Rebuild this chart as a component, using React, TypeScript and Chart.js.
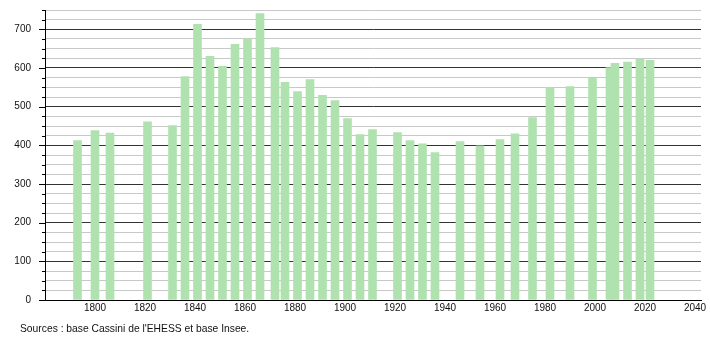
import React, { useEffect, useRef } from "react";
import { Chart, registerables } from "chart.js";

Chart.register(...registerables);

const years = [
  1793, 1800, 1806, 1821, 1831, 1836, 1841, 1846, 1851, 1856, 1861, 1866, 1872,
  1876, 1881, 1886, 1891, 1896, 1901, 1906, 1911, 1921, 1926, 1931, 1936, 1946,
  1954, 1962, 1968, 1975, 1982, 1990, 1999, 2006, 2008, 2013, 2018, 2022,
];
const population = [
  412, 438, 432, 461, 451, 578, 713, 630, 604, 661, 676, 741, 653,
  563, 539, 570, 529, 516, 469, 428, 441, 433, 412, 404, 381, 410,
  399, 415, 430, 472, 550, 552, 573, 601, 612, 615, 624, 620,
];
const xTickValues = [1800, 1820, 1840, 1860, 1880, 1900, 1920, 1940, 1960, 1980, 2000, 2020, 2040];
const xMin = 1780;
const xMax = 2042.4;
const yMin = 0;
const yMax = 750;
const yMinorStep = 25;
const yMajorStep = 100;
const sourceText = "Sources : base Cassini de l'EHESS et base Insee.";

const FONT = '"Liberation Sans", Arial, sans-serif';

export default function App() {
  const canvasRef = useRef<HTMLCanvasElement | null>(null);

  useEffect(() => {
    document.body.style.margin = "0";
    const canvas = canvasRef.current;
    if (!canvas) return;

    const extras = {
      id: "extras",
      afterDraw(chart: any) {
        const ctx = chart.ctx;
        const ys = chart.scales.y;
        const left = chart.chartArea.left;
        ctx.save();
        ctx.strokeStyle = "#000";
        ctx.lineWidth = 1;
        ys.ticks.forEach((t: any) => {
          const py = Math.round(ys.getPixelForValue(t.value)) + 0.5;
          const len = t.value % yMajorStep === 0 ? 6 : 3;
          ctx.beginPath();
          ctx.moveTo(left - len, py);
          ctx.lineTo(left, py);
          ctx.stroke();
        });
        ctx.fillStyle = "#111";
        ctx.font = "10.3px " + FONT;
        ctx.textBaseline = "middle";
        ctx.textAlign = "left";
        ctx.fillText(sourceText, 20, 329);
        ctx.restore();
      },
    };

    const chart = new Chart(canvas, {
      type: "bar",
      data: {
        datasets: [
          {
            data: years.map((y, i) => ({ x: y, y: population[i] })),
            backgroundColor: "rgb(176,226,176)",
            borderWidth: 0,
            barThickness: 8,
          },
        ],
      },
      options: {
        responsive: false,
        animation: false,
        layout: { autoPadding: false, padding: { top: 10, right: 9, bottom: 0, left: 0 } },
        plugins: {
          legend: { display: false },
          tooltip: { enabled: false },
          title: { display: false },
        },
        scales: {
          x: {
            type: "linear",
            min: xMin,
            max: xMax,
            offset: false,
            grid: { display: false, offset: false, drawTicks: false },
            border: { display: true, color: "#000", width: 1 },
            afterBuildTicks: (scale: any) => {
              scale.ticks = xTickValues.map((v) => ({ value: v }));
            },
            afterFit: (scale: any) => {
              scale.height = 40;
              scale.paddingLeft = 0;
              scale.paddingRight = 0;
              scale.paddingTop = 0;
              scale.paddingBottom = 0;
            },
            ticks: {
              autoSkip: false,
              maxRotation: 0,
              padding: 2,
              color: "#111",
              font: { family: FONT, size: 10 },
              callback: (v: any) => String(v),
            },
          },
          y: {
            min: yMin,
            max: yMax,
            afterFit: (scale: any) => {
              scale.width = 45;
              scale.paddingTop = 0;
              scale.paddingBottom = 0;
              scale.paddingLeft = 0;
              scale.paddingRight = 0;
            },
            grid: {
              drawTicks: false,
              color: (ctx: any) =>
                ctx.tick && ctx.tick.value % yMajorStep === 0 ? "#333" : "#c8c8c8",
              lineWidth: 1,
            },
            border: { display: true, color: "#000", width: 1 },
            ticks: {
              stepSize: yMinorStep,
              autoSkip: false,
              padding: 14,
              color: "#111",
              font: { family: FONT, size: 10 },
              callback: (v: any) => (Number(v) % yMajorStep === 0 ? String(v) : ""),
            },
          },
        },
      },
      plugins: [extras],
    });

    return () => chart.destroy();
  }, []);

  return (
    <div style={{ width: 710, height: 340 }}>
      <canvas ref={canvasRef} width={710} height={340} />
    </div>
  );
}
